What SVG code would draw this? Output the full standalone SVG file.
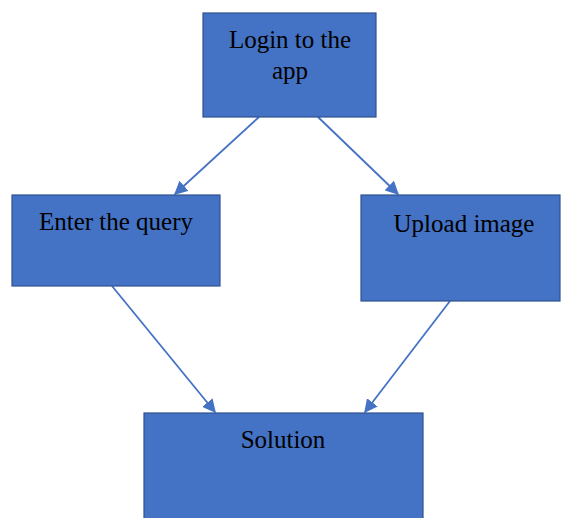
<svg xmlns="http://www.w3.org/2000/svg" width="563" height="518" viewBox="0 0 563 518">
  <style>
    .box { fill: #4472C4; stroke: #2F528F; stroke-width: 1.2; }
    .label { font-family: "Liberation Serif", "Times New Roman", serif; font-size: 25px; fill: #000; text-anchor: middle; }
    .edge { stroke: #4472C4; stroke-width: 1.8; fill: none; marker-end: url(#arrow); }
  </style>
  <defs>
    <marker id="arrow" viewBox="0 0 10 10" refX="9" refY="5" markerWidth="7.5" markerHeight="7.5" markerUnits="strokeWidth" orient="auto">
      <path d="M0,0 L10,5 L0,10 z" fill="#4472C4"/>
    </marker>
  </defs>
  <rect width="563" height="518" fill="#fff"/>

  <g id="connectors">
    <line class="edge" x1="259" y1="117" x2="175" y2="194"/>
    <line class="edge" x1="318" y1="117" x2="398" y2="194"/>
    <line class="edge" x1="112" y1="286" x2="215" y2="412"/>
    <line class="edge" x1="450" y1="301" x2="365" y2="412"/>
  </g>

  <g id="login">
    <rect class="box" x="203" y="13" width="173" height="104"/>
    <text class="label" x="290" y="48">Login to the</text>
    <text class="label" x="290" y="79">app</text>
  </g>

  <g id="query">
    <rect class="box" x="12" y="195" width="208" height="91"/>
    <text class="label" x="116" y="230">Enter the query</text>
  </g>

  <g id="upload">
    <rect class="box" x="361" y="195" width="199" height="106"/>
    <text class="label" x="464" y="232">Upload image</text>
  </g>

  <g id="solution">
    <rect class="box" x="144" y="413" width="279" height="110"/>
    <text class="label" x="283" y="448">Solution</text>
  </g>
</svg>
